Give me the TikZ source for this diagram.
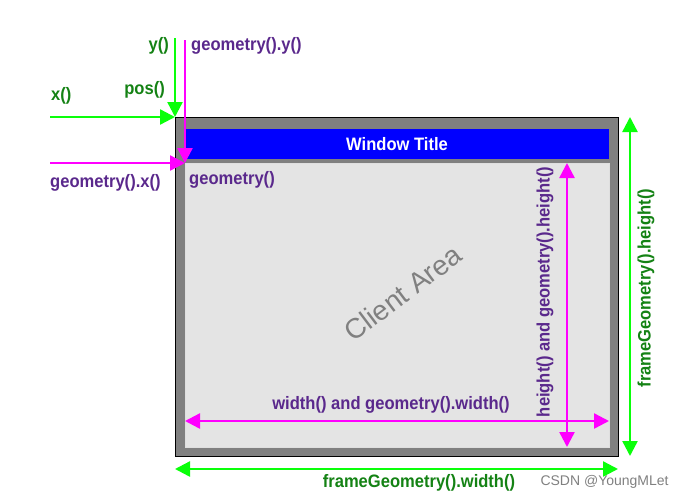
\documentclass[tikz,border=0pt]{standalone}
\usepackage{fontspec}
\setmainfont{Liberation Sans}[FakeStretch=0.92]
\newfontfamily\plainsans{Liberation Sans}
\usetikzlibrary{arrows.meta}

\definecolor{framegray}{RGB}{128,128,128}
\definecolor{clientgray}{RGB}{228,228,228}
\definecolor{titleblue}{RGB}{0,0,255}
\definecolor{arrowgreen}{RGB}{10,255,10}
\definecolor{labgreen}{RGB}{20,130,20}
\definecolor{arrowpink}{RGB}{255,0,255}
\definecolor{labpurple}{RGB}{90,40,140}

\tikzset{
  tip/.tip={Triangle[length=15pt,width=15pt]},
  lab/.style={inner sep=1pt, font=\fontsize{18}{20}\selectfont\bfseries},
  glab/.style={lab, text=labgreen},
  plab/.style={lab, text=labpurple},
  garrow/.style={draw=arrowgreen, line width=2.4pt, -tip},
  parrow/.style={draw=arrowpink, line width=2.4pt, -tip},
  gdouble/.style={garrow, tip-tip},
  pdouble/.style={parrow, tip-tip}
}

\begin{document}
\begin{tikzpicture}[x=1pt, y=-1pt]
    \useasboundingbox (0, 0) rectangle (681, 499);

    % Frame
    \draw[fill=framegray, draw=black, line width=0.8pt] (175, 117) rectangle (618, 456);
    \fill[titleblue] (185, 129) rectangle (609, 159);
    \draw[fill=clientgray, draw=gray!25, line width=0.8pt] (185, 163) rectangle (609, 447);
    \node[lab, text=white] (title) at (397, 144) {Window Title};
    \node[rotate=37, text=framegray, font=\plainsans\fontsize{28}{30}\selectfont] (client) at (403, 293) {Client Area};

    % Corners and free ends
    \coordinate (frameNW) at (175, 117);
    \coordinate (clientNW) at (185, 163);
    \coordinate (xstart) at (50, 117);
    \coordinate (ystart) at (175, 38);
    \coordinate (gxstart) at (50, 163);
    \coordinate (gystart) at (185, 40);

    % pos() and geometry() corner arrows
    \draw[garrow] (xstart) -- (frameNW);
    \draw[garrow] (ystart) -- (frameNW);
    \draw[parrow] (gxstart) -- (clientNW);
    \draw[parrow] (gystart) -- (clientNW);

    \node[glab, anchor=east] (ylab) at (170, 46) {y()};
    \node[plab, anchor=west] (gylab) at (190, 46) {geometry().y()};
    \node[glab, anchor=east] (poslab) at (166, 90) {pos()};
    \node[glab, anchor=west] (xlab) at (50, 96) {x()};
    \node[plab, anchor=west] (gxlab) at (49, 183) {geometry().x()};
    \node[plab, anchor=west] (geolab) at (188, 180) {geometry()};

    % Client width and height
    \coordinate (cwleft) at (185, 421);
    \coordinate (cwright) at (609, 421);
    \coordinate (chtop) at (567, 163);
    \coordinate (chbot) at (567, 447);
    \draw[pdouble] (cwleft) -- (cwright);
    \draw[pdouble] (chtop) -- (chbot);
    \node[plab] (cwlab) at (391, 405) {width() and geometry().width()};
    \node[plab, rotate=90] (chlab) at (545, 292) {height() and geometry().height()};

    % Frame width and height
    \coordinate (fwleft) at (175, 469);
    \coordinate (fwright) at (618, 469);
    \coordinate (fhtop) at (630, 117);
    \coordinate (fhbot) at (630, 456);
    \draw[gdouble] (fwleft) -- (fwright);
    \draw[gdouble] (fhtop) -- (fhbot);
    \node[glab] (fwlab) at (419, 483) {frameGeometry().width()};
    \node[glab, rotate=90] (fhlab) at (646, 288) {frameGeometry().height()};

    % Watermark
    \node[anchor=west, text=gray, font=\plainsans\fontsize{14}{16}\selectfont] (mark) at (537, 482) {CSDN @YoungMLet};
\end{tikzpicture}
\end{document}
